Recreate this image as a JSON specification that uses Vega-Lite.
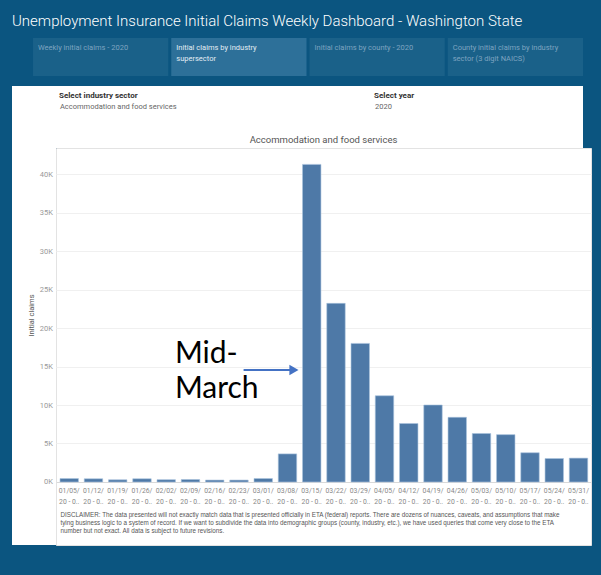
{
  "$schema": "https://vega.github.io/schema/vega-lite/v6.json",
  "background": "#0b5580",
  "padding": {"left": 12, "right": 10, "top": 14, "bottom": 30},
  "spacing": 10,
  "bounds": "flush",
  "config": {"view": {"stroke": null}, "font": "Roboto"},
  "vconcat": [
    {
      "title": {"text": "Unemployment Insurance Initial Claims Weekly Dashboard  - Washington State", "anchor": "start", "color": "#ffffff", "fontSize": 15, "font": "Roboto", "fontWeight": 300, "offset": 9, "frame": "group"},
      "width": 571,
      "height": 38,
      "data": {"values": [
        {"tab": "Weekly initial claims - 2020", "state": "off"},
        {"tab": "Initial claims by industry\nsupersector", "state": "on"},
        {"tab": "Initial claims by county - 2020", "state": "off"},
        {"tab": "County initial claims by industry\nsector (3 digit NAICS)", "state": "off"}
      ]},
      "encoding": {
        "x": {"field": "tab", "type": "nominal", "sort": null, "scale": {"paddingInner": 0.0217, "paddingOuter": 0.076, "align": 1}, "axis": null}
      },
      "layer": [
        {
          "mark": {"type": "rect"},
          "encoding": {
            "color": {"field": "state", "type": "nominal", "scale": {"domain": ["off", "on"], "range": ["#1a6189", "#2d7099"]}, "legend": null}
          }
        },
        {
          "mark": {"type": "text", "align": "left", "baseline": "top", "dx": 5, "dy": -13, "fontSize": 7.5, "lineHeight": 11, "lineBreak": "\n"},
          "encoding": {
            "x": {"field": "tab", "type": "nominal", "sort": null, "bandPosition": 0},
            "text": {"field": "tab"},
            "color": {"condition": {"test": "datum.state == 'on'", "value": "#e3edf4"}, "value": "#7ea4c0"}
          }
        }
      ]
    },
    {
      "vconcat": [
        {
          "width": 571,
          "height": 62,
          "view": {"fill": "#ffffff", "stroke": null},
          "data": {"values": [
            {"control": "Select industry sector", "value": "Accommodation and food services"},
            {"control": "Select year", "value": "2020"}
          ]},
          "encoding": {
            "x": {"field": "control", "type": "nominal", "sort": null, "scale": {"type": "point", "padding": 0.406, "align": 0.1836}, "axis": null}
          },
          "layer": [
            {"mark": {"type": "text", "align": "left", "baseline": "middle", "dy": -21, "fontSize": 8, "fontWeight": "bold", "color": "#333333"}, "encoding": {"text": {"field": "control"}}},
            {"mark": {"type": "text", "align": "left", "baseline": "middle", "dy": -10, "dx": 1, "fontSize": 7.5, "color": "#666666"}, "encoding": {"text": {"field": "value"}}}
          ]
        },
        {
          "hconcat": [
            {
              "width": 44,
              "height": 397,
              "view": {"fill": "#ffffff", "stroke": null},
              "data": {"values": [{"t": ""}]},
              "mark": {"type": "text"},
              "encoding": {"text": {"field": "t"}}
            },
            {
              "width": 535,
              "height": 397,
              "view": {"fill": "#ffffff", "stroke": "#e3e3e3"},
              "title": {"text": "Accommodation and food services", "fontSize": 9.5, "fontWeight": "normal", "color": "#555555", "offset": 4, "anchor": "middle"},
              "layer": [
                {
                  "data": {"values": [
                    {"week": "01/05/", "claims": 450},
                    {"week": "01/12/", "claims": 420},
                    {"week": "01/19/", "claims": 280},
                    {"week": "01/26/", "claims": 420},
                    {"week": "02/02/", "claims": 300},
                    {"week": "02/09/", "claims": 320},
                    {"week": "02/16/", "claims": 250},
                    {"week": "02/23/", "claims": 250},
                    {"week": "03/01/", "claims": 450},
                    {"week": "03/08/", "claims": 3650},
                    {"week": "03/15/", "claims": 41250},
                    {"week": "03/22/", "claims": 23200},
                    {"week": "03/29/", "claims": 18000},
                    {"week": "04/05/", "claims": 11200},
                    {"week": "04/12/", "claims": 7600},
                    {"week": "04/19/", "claims": 10000},
                    {"week": "04/26/", "claims": 8400},
                    {"week": "05/03/", "claims": 6300},
                    {"week": "05/10/", "claims": 6150},
                    {"week": "05/17/", "claims": 3800},
                    {"week": "05/24/", "claims": 3050},
                    {"week": "05/31/", "claims": 3100}
                  ]},
                  "mark": {"type": "bar", "color": "#4e79a7", "stroke": "#a9c2dd", "strokeWidth": 0.6},
                  "encoding": {
                    "x": {
                      "field": "week", "type": "ordinal", "sort": null,
                      "scale": {"paddingInner": 0.24, "paddingOuter": 0.15, "align": 0.55},
                      "axis": {
                        "title": [
                          "DISCLAIMER: The data presented will not exactly match data that is presented officially in ETA (federal) reports. There are dozens of nuances, caveats, and assumptions that make",
                          "tying business logic to a system of record. If we want to subdivide the data into demographic groups (county, industry, etc.), we have used queries that come very close to the ETA",
                          "number but not exact.  All data is subject to future revisions."
                        ],
                        "offset": -63,
                        "labelExpr": "[datum.value, '20 - 0..']",
                        "labelAngle": 0,
                        "labelFontSize": 6.8,
                        "labelColor": "#888888",
                        "labelLineHeight": 11,
                        "labelPadding": 5,
                        "labelOverlap": false,
                        "labelLimit": 0,
                        "ticks": false,
                        "domainColor": "#d9d9d9",
                        "titleFont": "Liberation Sans",
                        "titleFontSize": 6.27,
                        "titleColor": "#555555",
                        "titleFontWeight": "normal",
                        "titleAlign": "left",
                        "titleBaseline": "top",
                        "titleX": 4,
                        "titleY": 29,
                        "titleLineHeight": 8.3
                      }
                    },
                    "y": {
                      "field": "claims", "type": "quantitative",
                      "scale": {"domain": [-8182, 43377], "nice": false, "zero": false},
                      "axis": {
                        "values": [0, 5000, 10000, 15000, 20000, 25000, 30000, 35000, 40000],
                        "labelExpr": "datum.value / 1000 + 'K'",
                        "title": "Initial claims",
                        "titleFontSize": 7.5,
                        "titleFontWeight": "normal",
                        "titleColor": "#555555",
                        "titleX": -21,
                        "titleY": 167,
                        "labelFontSize": 7.5,
                        "labelColor": "#999999",
                        "labelPadding": 3.5,
                        "ticks": false,
                        "domain": false,
                        "gridColor": "#f0f0f0"
                      }
                    }
                  }
                },
                {
                  "data": {"values": [{"week": "02/02/", "claims": 16600, "note": "Mid-\nMarch"}]},
                  "mark": {"type": "text", "align": "left", "baseline": "middle", "font": "Lato", "fontSize": 30, "lineHeight": 35, "lineBreak": "\n", "color": "#000000"},
                  "encoding": {
                    "x": {"field": "week", "type": "ordinal", "sort": null, "bandPosition": 0.97},
                    "y": {"field": "claims", "type": "quantitative"},
                    "text": {"field": "note"}
                  }
                },
                {
                  "data": {"values": [{"week": "02/23/", "claims": 14550}, {"week": "03/08/", "claims": 14550}]},
                  "mark": {"type": "line", "color": "#4472c4", "strokeWidth": 2},
                  "encoding": {
                    "x": {"field": "week", "type": "ordinal", "sort": null, "bandPosition": 0.75},
                    "y": {"field": "claims", "type": "quantitative"}
                  }
                },
                {
                  "data": {"values": [{"week": "03/08/", "claims": 14550}]},
                  "mark": {"type": "point", "shape": "triangle-right", "filled": true, "color": "#4472c4", "size": 110, "opacity": 1},
                  "encoding": {
                    "x": {"field": "week", "type": "ordinal", "sort": null, "bandPosition": 0.85},
                    "y": {"field": "claims", "type": "quantitative"}
                  }
                }
              ]
            }
          ],
          "spacing": 0,
          "bounds": "flush"
        }
      ],
      "spacing": 0,
      "bounds": "flush"
    }
  ]
}
